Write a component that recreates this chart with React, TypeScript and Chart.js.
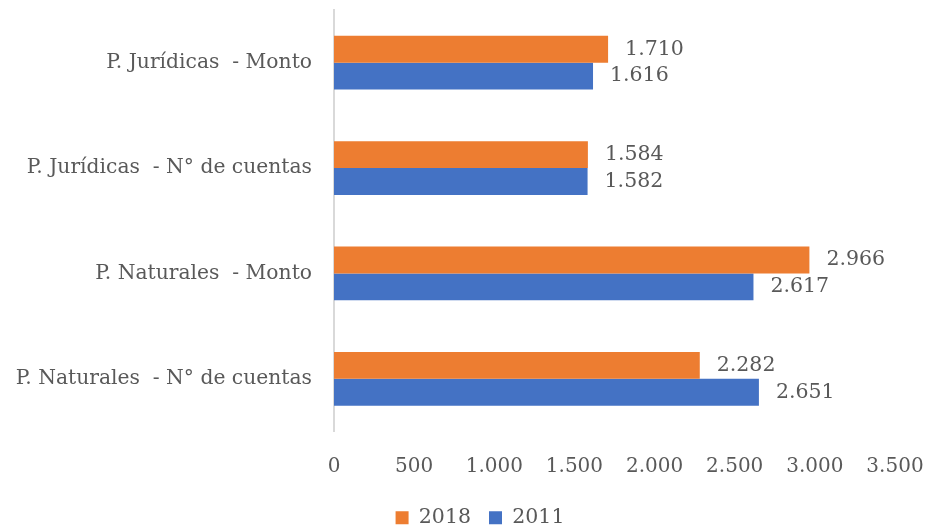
import React, { useEffect, useRef } from "react";
import { Chart, registerables } from "chart.js";

Chart.register(...registerables);

const categories = [
  "P. Jurídicas  - Monto",
  "P. Jurídicas  - N° de cuentas",
  "P. Naturales  - Monto",
  "P. Naturales  - N° de cuentas",
];
const series2018 = [1710, 1584, 2966, 2282];
const series2011 = [1616, 1582, 2617, 2651];
const seriesLabels = ["2018", "2011"];
const xMin = 0;
const xMax = 3500;
const xStep = 500;

const FONT = "'DejaVu Serif', serif";
const TEXT = "#595959";

const fmt = (v: number) =>
  v.toLocaleString("en-US").replace(/,/g, ".");

const labelPlugin = {
  id: "barLabels",
  afterDatasetsDraw(chart: any) {
    const ctx = chart.ctx;
    ctx.save();
    ctx.font = `20.5px ${FONT}`;
    ctx.fillStyle = TEXT;
    ctx.textAlign = "left";
    ctx.textBaseline = "middle";
    chart.data.datasets.forEach((ds: any, i: number) => {
      const meta = chart.getDatasetMeta(i);
      meta.data.forEach((bar: any, j: number) => {
        ctx.fillText(fmt(ds.data[j]), bar.x + 17, bar.y);
      });
    });
    ctx.restore();
  },
};

const legendShift = {
  id: "legendShift",
  afterLayout(chart: any) {
    const l = chart.legend;
    if (l) {
      l.left += 16;
      l.right += 16;
    }
  },
};

export default function App() {
  const ref = useRef<HTMLCanvasElement>(null);
  useEffect(() => {
    document.body.style.margin = "0";
    const chart = new Chart(ref.current!, {
      type: "bar",
      data: {
        labels: categories,
        datasets: [
          { label: seriesLabels[0], data: series2018, backgroundColor: "#ED7D31" },
          { label: seriesLabels[1], data: series2011, backgroundColor: "#4472C4" },
        ],
      },
      options: {
        indexAxis: "y",
        animation: false,
        responsive: false,
        maintainAspectRatio: false,
        layout: { padding: { top: 10, right: 0, bottom: -8, left: 0 } },
        datasets: { bar: { categoryPercentage: 0.511, barPercentage: 1 } },
        scales: {
          x: {
            min: xMin,
            max: xMax,
            grid: { display: false },
            border: { display: false },
            ticks: {
              stepSize: xStep,
              color: TEXT,
              font: { family: FONT, size: 20 },
              padding: 15,
              callback: (v: any) => fmt(Number(v)),
            },
            afterFit: (s: any) => {
              s.height = 58;
              s.paddingLeft = 0;
              s.paddingRight = 33;
            },
          },
          y: {
            grid: { display: false },
            border: { display: true, color: "#D9D9D9", width: 2 },
            ticks: {
              color: TEXT,
              font: { family: FONT, size: 20.3 },
              padding: 14,
            },
            afterFit: (s: any) => {
              s.width = 334;
              s.paddingTop = 0;
              s.paddingBottom = 0;
            },
          },
        },
        plugins: {
          legend: {
            position: "bottom",
            labels: {
              color: TEXT,
              font: { family: FONT, size: 20.5 },
              boxWidth: 13,
              boxHeight: 13,
              padding: 18,
            },
          },
          tooltip: { enabled: false },
        },
      },
      plugins: [labelPlugin, legendShift],
    });
    return () => chart.destroy();
  }, []);
  return (
    <div style={{ position: "absolute", left: 0, top: 0, width: 928, height: 530 }}>
      <canvas ref={ref} width={928} height={530} />
    </div>
  );
}
